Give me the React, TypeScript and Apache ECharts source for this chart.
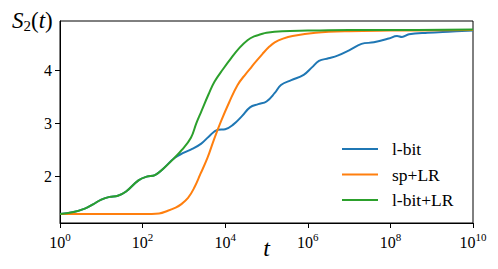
import React, { useEffect, useRef } from "react";
import * as echarts from "echarts";

// log10(t) positions and S2 values
const lbitLogT = [0, 0.3, 0.6, 0.8, 1.0, 1.2, 1.4, 1.6, 1.9, 2.1, 2.3, 2.5, 2.77, 3.0, 3.2, 3.42, 3.6, 3.82, 4.0, 4.2, 4.4, 4.6, 4.8, 5.0, 5.2, 5.35, 5.6, 5.9, 6.1, 6.27, 6.5, 6.72, 7.0, 7.3, 7.6, 7.96, 8.16, 8.28, 8.45, 8.9, 9.4, 10];
const lbitS = [1.30, 1.33, 1.40, 1.48, 1.57, 1.62, 1.64, 1.72, 1.93, 2.00, 2.03, 2.15, 2.35, 2.45, 2.52, 2.62, 2.75, 2.88, 2.89, 2.98, 3.13, 3.30, 3.36, 3.41, 3.57, 3.72, 3.81, 3.91, 4.05, 4.17, 4.22, 4.27, 4.37, 4.49, 4.52, 4.59, 4.64, 4.62, 4.67, 4.70, 4.72, 4.74];

const spLogT = [0, 1, 2, 2.4, 2.61, 2.8, 2.93, 3.1, 3.25, 3.4, 3.57, 3.73, 3.9, 4.1, 4.3, 4.5, 4.6, 4.7, 4.9, 5.07, 5.2, 5.4, 5.63, 6.19, 7.0, 8.0, 10];
const spS = [1.30, 1.30, 1.30, 1.31, 1.36, 1.42, 1.48, 1.60, 1.79, 2.05, 2.35, 2.70, 3.04, 3.40, 3.72, 3.93, 4.02, 4.12, 4.30, 4.44, 4.52, 4.59, 4.64, 4.70, 4.73, 4.74, 4.75];

const lbitLrLogT = [0, 0.3, 0.6, 0.8, 1.0, 1.2, 1.4, 1.6, 1.9, 2.1, 2.3, 2.5, 2.77, 2.95, 3.17, 3.3, 3.42, 3.6, 3.74, 3.95, 4.14, 4.35, 4.54, 4.7, 4.86, 5.0, 5.38, 6, 7, 8, 10];
const lbitLrS = [1.30, 1.33, 1.40, 1.48, 1.57, 1.62, 1.64, 1.72, 1.93, 2.00, 2.03, 2.15, 2.35, 2.50, 2.73, 3.00, 3.22, 3.55, 3.78, 4.02, 4.22, 4.42, 4.56, 4.63, 4.67, 4.70, 4.73, 4.74, 4.75, 4.75, 4.76];

const seriesNames = ["l-bit", "sp+LR", "l-bit+LR"];
const seriesColors = ["#1f77b4", "#ff7f0e", "#2ca02c"];
const yTicks = [2, 3, 4];

const FONT = "Liberation Serif";

function toPoints(logT: number[], s: number[]) {
  return logT.map((e, i) => [Math.pow(10, e), s[i]]);
}

export default function App() {
  const ref = useRef<HTMLDivElement>(null);
  useEffect(() => {
    if (!ref.current) return;
    const chart = echarts.init(ref.current, undefined, { renderer: "svg" });
    const datasets = [
      toPoints(lbitLogT, lbitS),
      toPoints(spLogT, spS),
      toPoints(lbitLrLogT, lbitLrS),
    ];
    chart.setOption({
      animation: false,
      backgroundColor: "#fff",
      textStyle: { fontFamily: FONT },
      title: {
        text: "{i|S}{sub|2}{n|(}{i|t}{n|)}",
        left: 7,
        top: 3,
        textStyle: {
          fontWeight: "normal",
          rich: {
            i: { fontFamily: FONT, fontStyle: "italic", fontWeight: "normal", fontSize: 23, color: "#000" },
            n: { fontFamily: FONT, fontWeight: "normal", fontSize: 23, color: "#000" },
            sub: { fontFamily: FONT, fontWeight: "normal", fontSize: 15, color: "#000", padding: [10, 0, 0, 0] },
          },
        },
      },
      grid: {
        left: 60,
        right: 25,
        top: 21,
        bottom: 46,
        show: true,
        borderColor: "#000",
        borderWidth: 1,
        backgroundColor: "transparent",
        outerBoundsMode: "none",
        containLabel: false,
      },
      legend: {
        orient: "vertical",
        left: 342,
        top: 140,
        padding: 0,
        itemWidth: 36,
        itemHeight: 14,
        itemGap: 7.5,
        data: seriesNames.map((n) => ({ name: n, icon: "path://M0,6 L36,6 L36,8 L0,8 Z" })),
        textStyle: {
          fontFamily: FONT,
          fontSize: 17.5,
          lineHeight: 14,
          color: "#000",
          padding: [0, 0, 0, 9],
        },
      },
      xAxis: {
        type: "log",
        logBase: 10,
        min: 1,
        max: 1e10,
        interval: 2,
        name: "t",
        nameLocation: "middle",
        nameGap: 13,
        nameMoveOverlap: false,
        nameTextStyle: { fontFamily: FONT, fontStyle: "italic", fontSize: 24, color: "#000" },
        axisLine: { lineStyle: { color: "#000", width: 1 } },
        axisTick: { length: 5, lineStyle: { color: "#000" } },
        splitLine: { show: false },
        minorTick: { show: false },
        axisLabel: {
          margin: 5,
          formatter: (v: number) => {
            const e = Math.round(Math.log10(v));
            return "{b|10}{s|" + e + "}";
          },
          rich: {
            b: { fontFamily: FONT, fontSize: 16, color: "#000", padding: [6, 0, 0, 0] },
            s: { fontFamily: FONT, fontSize: 11, color: "#000", padding: [0, 0, 4, 0] },
          },
        },
      },
      yAxis: {
        type: "value",
        min: 1.13,
        max: 4.92,
        axisLine: { show: true, lineStyle: { color: "#000", width: 1 } },
        axisTick: { show: true, length: 5, lineStyle: { color: "#000" }, customValues: yTicks },
        splitLine: { show: false },
        axisLabel: {
          margin: 8,
          customValues: yTicks,
          formatter: (v: number) => "{v|" + v + "}",
          rich: { v: { fontFamily: FONT, fontSize: 16, color: "#000" } },
        },
      },
      series: seriesNames.map((n, i) => ({
        name: n,
        type: "line",
        data: datasets[i],
        showSymbol: false,
        symbol: "none",
        smooth: 0.4,
        lineStyle: { color: seriesColors[i], width: 2 },
        itemStyle: { color: seriesColors[i] },
      })),
    });
    return () => chart.dispose();
  }, []);
  return <div ref={ref} style={{ width: 498, height: 269, position: "absolute", left: 0, top: 0 }} />;
}
